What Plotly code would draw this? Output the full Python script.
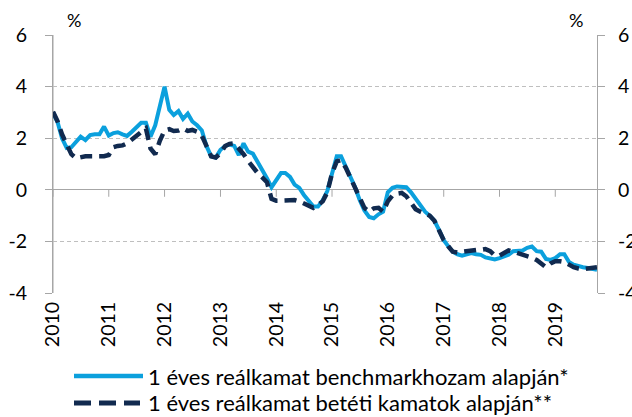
import pandas as pd
import plotly.graph_objects as go

# Monthly observations, January 2010 - October 2019 (%)
months = pd.date_range("2010-01-01", periods=118, freq="MS")

benchmark_real_rate = [
    3.0, 2.6, 2.0, 1.62, 1.65, 1.85, 2.06, 1.93, 2.12, 2.15, 2.15, 2.45,
    2.1, 2.2, 2.23, 2.15, 2.09, 2.25, 2.4, 2.6, 2.6, 2.06, 2.5, 3.2,
    4.0, 3.1, 2.9, 3.05, 2.75, 2.95, 2.65, 2.5, 2.3, 1.7, 1.3, 1.25,
    1.55, 1.7, 1.75, 1.7, 1.35, 1.8, 1.48, 1.4, 1.1, 0.75, 0.45, 0.1,
    0.4, 0.65, 0.65, 0.5, 0.2, 0.07, -0.2, -0.45, -0.65, -0.65, -0.4, -0.05,
    0.7, 1.3, 1.3, 0.9, 0.55, 0.1, -0.4, -0.8, -1.05, -1.1, -0.95, -0.85,
    -0.1, 0.08, 0.13, 0.13, 0.1, -0.1, -0.35, -0.6, -0.85, -1.0, -1.2, -1.55,
    -1.95, -2.2, -2.4, -2.5, -2.55, -2.5, -2.45, -2.5, -2.52, -2.62, -2.65, -2.7,
    -2.65, -2.58, -2.52, -2.38, -2.35, -2.35, -2.25, -2.2, -2.38, -2.4, -2.68, -2.72,
    -2.65, -2.5, -2.5, -2.8, -2.9, -2.97, -3.0, -3.03, -3.08, -3.1,
]

deposit_real_rate = [
    3.03, 2.64, 2.15, 1.75, 1.38, 1.22, 1.27, 1.3, 1.3, 1.29, 1.29, 1.3,
    1.35, 1.65, 1.7, 1.72, 1.8, 1.95, 2.1, 2.28, 2.38, 1.6, 1.38, 1.9,
    2.3, 2.35, 2.28, 2.3, 2.38, 2.28, 2.32, 2.25, 2.1, 1.7, 1.3, 1.25,
    1.42, 1.7, 1.78, 1.8, 1.6, 1.38, 1.12, 0.85, 0.65, 0.48, 0.3, -0.35,
    -0.42, -0.42, -0.4, -0.4, -0.4, -0.45, -0.52, -0.62, -0.7, -0.6, -0.45, -0.1,
    0.64, 1.1, 1.15, 0.85, 0.45, 0.1, -0.3, -0.7, -0.85, -0.72, -0.7, -0.85,
    -0.45, -0.22, -0.15, -0.12, -0.25, -0.5, -0.75, -0.85, -0.92, -1.0, -1.2, -1.55,
    -1.95, -2.2, -2.4, -2.43, -2.4, -2.35, -2.33, -2.33, -2.33, -2.3, -2.38, -2.55,
    -2.55, -2.42, -2.35, -2.4, -2.45, -2.5, -2.55, -2.63, -2.72, -2.88, -3.0, -2.85,
    -2.77, -2.77, -2.8, -2.9, -3.0, -3.05, -3.08, -3.05, -3.02, -3.0,
]

series_names = [
    "1 éves reálkamat benchmarkhozam alapján*",
    "1 éves reálkamat betéti kamatok alapján**",
]

year_ticks = [f"{y}-01-01" for y in range(2010, 2020)]
year_labels = [str(y) for y in range(2010, 2020)]
y_ticks = [-4, -2, 0, 2, 4, 6]
y_labels = ["-4", "-2", "0", "2", "4", "6"]

BLUE = "#0BA0DD"
NAVY = "#112A4F"
GRID = "#BFBFBF"
AXIS = "#A6A6A6"
FONT = "Lato, 'Noto Sans', sans-serif"

fig = go.Figure()
fig.add_trace(go.Scatter(
    x=months, y=benchmark_real_rate, mode="lines", name=series_names[0],
    line=dict(color=BLUE, width=4), showlegend=False, yaxis="y",
))
# same scale on both sides; the deposit series is plotted against the right axis
fig.add_trace(go.Scatter(
    x=months, y=deposit_real_rate, mode="lines", name=series_names[1],
    line=dict(color=NAVY, width=4.5, dash="12px,7px"), showlegend=False, yaxis="y2",
))

W, H = 632, 417
ML, MR, MT, MB = 53, 35, 35, 124
pw = W - ML - MR
ph = H - MT - MB


def px_x(px):
    return (px - ML) / pw


def px_y(py):
    return (H - MB - py) / ph


shapes = [
    # left value axis line
    dict(type="line", xref="paper", yref="paper", x0=0, x1=0, y0=0, y1=1,
         line=dict(color=AXIS, width=1), layer="below"),
]
# small tick marks hanging from the zero line at each year
for t in year_ticks:
    shapes.append(dict(
        type="line", xref="x", yref="y", x0=t, x1=t, y0=0, y1=-0.27,
        line=dict(color=AXIS, width=1), layer="below",
    ))

LEG_Y1, LEG_Y2 = 376, 403

# legend samples
shapes.append(dict(
    type="line", xref="paper", yref="paper",
    x0=px_x(74), x1=px_x(143), y0=px_y(LEG_Y1), y1=px_y(LEG_Y1),
    line=dict(color=BLUE, width=4.5),
))
shapes.append(dict(
    type="line", xref="paper", yref="paper",
    x0=px_x(74), x1=px_x(140), y0=px_y(LEG_Y2), y1=px_y(LEG_Y2),
    line=dict(color=NAVY, width=5, dash="17px,8px"),
))

annotations = [
    dict(text="%", xref="paper", yref="paper", x=px_x(74), y=px_y(20),
         showarrow=False, font=dict(size=18, color="#000"), xanchor="center", yanchor="middle"),
    dict(text="%", xref="paper", yref="paper", x=px_x(576), y=px_y(20),
         showarrow=False, font=dict(size=18, color="#000"), xanchor="center", yanchor="middle"),
    dict(text=series_names[0], xref="paper", yref="paper", x=px_x(146), y=px_y(LEG_Y1),
         showarrow=False, font=dict(size=22, color="#000"), xanchor="left", yanchor="middle"),
    dict(text=series_names[1], xref="paper", yref="paper", x=px_x(146), y=px_y(LEG_Y2),
         showarrow=False, font=dict(size=22, color="#000"), xanchor="left", yanchor="middle"),
]

axis_font = dict(size=19.5, color="#000", family=FONT)

fig.update_layout(
    width=W, height=H,
    margin=dict(l=ML, r=MR, t=MT, b=MB, pad=0, autoexpand=False),
    paper_bgcolor="white", plot_bgcolor="white",
    font=dict(family=FONT, color="#000"),
    showlegend=False,
    shapes=shapes,
    annotations=annotations,
    xaxis=dict(
        type="date", range=[months[0], months[-1]], automargin=False,
        tickvals=year_ticks, ticktext=year_labels, tickangle=-90,
        tickfont=axis_font, showgrid=False, showline=False, zeroline=False,
        ticks="", ticklabelstandoff=4,
    ),
    yaxis=dict(
        range=[-4, 6], tickvals=y_ticks, ticktext=y_labels, tickfont=axis_font,
        automargin=False,
        showgrid=True, gridcolor=GRID, griddash="4px,3px", gridwidth=1,
        zeroline=True, zerolinecolor=AXIS, zerolinewidth=1,
        showline=True, linecolor=AXIS, linewidth=1,
        ticks="outside", ticklen=7, tickcolor=AXIS, ticklabelstandoff=14,
    ),
    yaxis2=dict(
        range=[-4, 6], tickvals=y_ticks, ticktext=y_labels, tickfont=axis_font,
        automargin=False,
        overlaying="y", side="right", showgrid=False, zeroline=False,
        showline=True, linecolor=AXIS, linewidth=1,
        ticks="outside", ticklen=7, tickcolor=AXIS, ticklabelstandoff=9,
    ),
)

fig.write_html("out.html")
